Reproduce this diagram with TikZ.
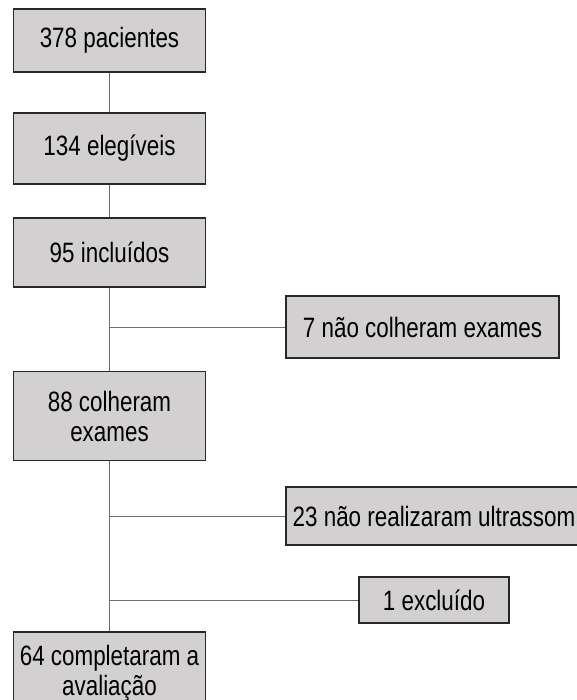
\documentclass[tikz,border=0pt]{standalone}
\usepackage{fontspec}
\setmainfont{Liberation Sans}[FakeStretch=0.8]
\definecolor{caixacinza}{RGB}{210,208,209}
\definecolor{bordacinza}{RGB}{40,40,40}
\definecolor{linhacinza}{RGB}{110,110,110}
\tikzset{
  caixa/.style={draw=bordacinza, fill=caixacinza, line width=1.3pt, inner sep=0pt,
    align=center, font=\fontsize{28}{30}\selectfont},
  ligacao/.style={draw=linhacinza, line width=1pt}
}

\begin{document}
\begin{tikzpicture}[x=1pt,y=-1pt]
\clip (0,0) rectangle (577,700);

% coluna principal
\node[caixa, minimum width=192, minimum height=63] (P) at (109.5,40.5) {378 pacientes};
\node[caixa, minimum width=192, minimum height=71] (E) at (109.5,148.5) {134 elegíveis};
\node[caixa, minimum width=192, minimum height=69] (I) at (109.5,252.5) {95 incluídos};
\node[caixa, minimum width=192, minimum height=89] (C) at (109.5,416) {88 colheram\\exames};
\node[caixa, minimum width=192, minimum height=82] (A) at (109.5,673) {64 completaram a\\avaliação};

% caixas laterais
\node[caixa, minimum width=273, minimum height=62] (N) at (422.5,327) {7 não colheram exames};
\node[caixa, minimum width=296, minimum height=58] (U) at (434,516) {23 não realizaram ultrassom};
\node[caixa, minimum width=150, minimum height=46] (X) at (434,600) {1 excluído};

% pontos de ramificação
\coordinate (K1) at (109.5,327);
\coordinate (K2) at (109.5,516);
\coordinate (K3) at (109.5,600);

% ligações
\draw[ligacao] (P.south) -- (E.north);
\draw[ligacao] (E.south) -- (I.north);
\draw[ligacao] (I.south) -- (C.north);
\draw[ligacao] (C.south) -- (A.north);
\draw[ligacao] (K1) -- (N.west);
\draw[ligacao] (K2) -- (U.west);
\draw[ligacao] (K3) -- (X.west);

\end{tikzpicture}
\end{document}
